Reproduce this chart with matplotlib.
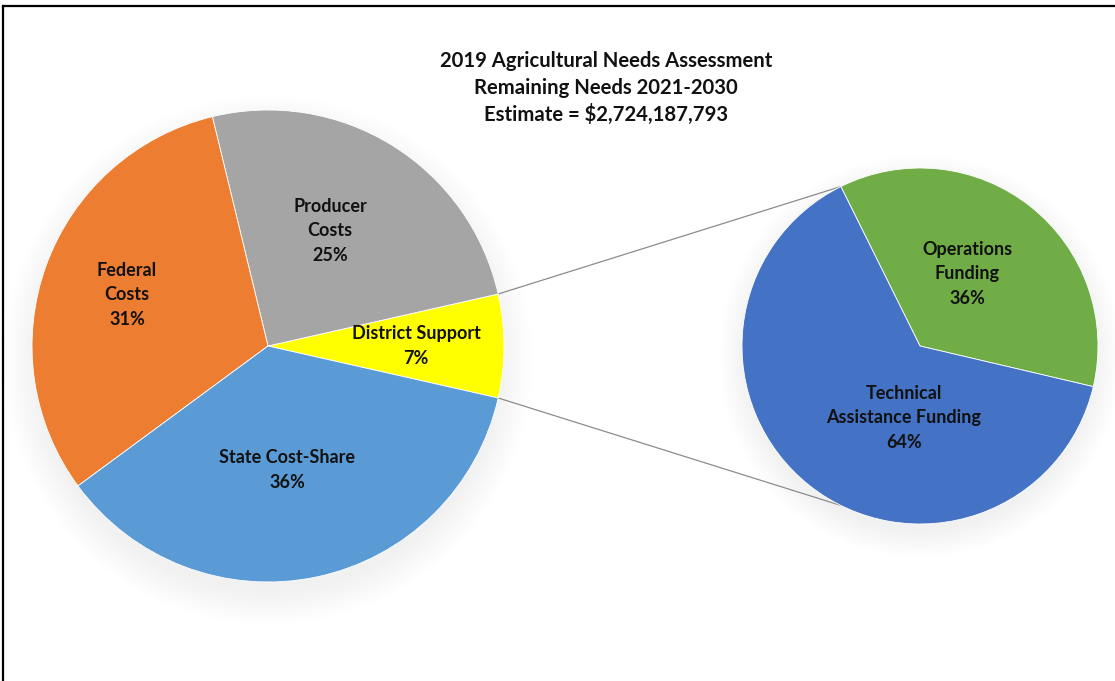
import numpy as np
import matplotlib
matplotlib.use("Agg")
import matplotlib.pyplot as plt
from matplotlib.patches import Circle
from matplotlib.lines import Line2D

# ---------------- data ----------------
main_labels = ["District Support", "Producer\nCosts", "Federal\nCosts", "State Cost-Share"]
main_values = [7, 25, 31, 36]
main_colors = ["#FFFF00", "#A5A5A5", "#ED7D31", "#5B9BD5"]

sub_labels = ["Operations\nFunding", "Technical\nAssistance Funding"]
sub_values = [36, 64]
sub_colors = ["#70AD47", "#4472C4"]

title_lines = ["2019 Agricultural Needs Assessment",
               "Remaining Needs 2021-2030",
               "Estimate = $2,724,187,793"]

W, H = 1115, 681
FONT = "Lato"

fig = plt.figure(figsize=(W / 100, H / 100), dpi=100)
ax = fig.add_axes([0, 0, 1, 1])
ax.set_xlim(0, W)
ax.set_ylim(0, H)
ax.set_aspect("equal")
ax.axis("off")

c1 = (268, H - 346)
r1 = 236
c2 = (920, H - 346)
r2 = 178

# soft shadows (mostly below the pies)
for k in range(14):
    a = 0.005
    ax.add_patch(Circle((c1[0], c1[1] - 14), r1 - 4 + k * 2.5, color="black", alpha=a, lw=0, zorder=0))
    ax.add_patch(Circle((c2[0], c2[1] - 10), r2 - 3 + k * 2.0, color="black", alpha=a, lw=0, zorder=0))

yellow_span = 360 * main_values[0] / sum(main_values)
start1 = -yellow_span / 2
w1, _ = ax.pie(main_values, colors=main_colors, startangle=start1, counterclock=True,
               center=c1, radius=r1, frame=True,
               wedgeprops=dict(linewidth=0.6, edgecolor="white"))
ax.set_xlim(0, W)
ax.set_ylim(0, H)
ax.axis("off")

start2 = -13.2
w2, _ = ax.pie(sub_values, colors=sub_colors, startangle=start2, counterclock=True,
               center=c2, radius=r2, frame=True,
               wedgeprops=dict(linewidth=0.6, edgecolor="white"))
ax.set_xlim(0, W)
ax.set_ylim(0, H)
ax.axis("off")

# connector lines
yw = w1[0]
t_top, t_bot = np.radians(yw.theta2), np.radians(yw.theta1)
tg = np.radians(w2[0].theta2)
p_top = (c1[0] + r1 * np.cos(t_top), c1[1] + r1 * np.sin(t_top))
p_bot = (c1[0] + r1 * np.cos(t_bot), c1[1] + r1 * np.sin(t_bot))
q_top = (c2[0] + r2 * np.cos(tg), c2[1] + r2 * np.sin(tg))
q_bot = (c2[0] + r2 * np.cos(-tg), c2[1] + r2 * np.sin(-tg))
ax.plot([p_top[0], q_top[0]], [p_top[1], q_top[1]], color="#8C8C8C", lw=0.9, zorder=0.5)
ax.plot([p_bot[0], q_bot[0]], [p_bot[1], q_bot[1]], color="#8C8C8C", lw=0.9, zorder=0.5)

# labels
lab_kw = dict(ha="center", va="center", fontsize=13, fontweight="bold",
              family=FONT, color="#111111", linespacing=1.56)
main_pos = [(416, 346), (330, 231), (127, 295), (287, 470)]
for lbl, v, (x, y) in zip(main_labels, main_values, main_pos):
    ax.text(x, H - y, f"{lbl}\n{v}%", **lab_kw)
sub_pos = [(967, 274), (904, 418)]
for lbl, v, (x, y) in zip(sub_labels, sub_values, sub_pos):
    ax.text(x, H - y, f"{lbl}\n{v}%", **lab_kw)

# title
for i, t in enumerate(title_lines):
    ax.text(606, H - (61 + i * 26.5), t, ha="center", va="center",
            fontsize=14.6, fontweight="bold", family=FONT, color="#111111")

# frame border
fig.add_artist(Line2D([3 / W, 3 / W], [0, 1 - 6 / H], transform=fig.transFigure, color="black", lw=1.6))
fig.add_artist(Line2D([3 / W, 1], [1 - 6 / H, 1 - 6 / H], transform=fig.transFigure, color="black", lw=1.6))

fig.savefig("out.png", dpi=100, facecolor="white")
